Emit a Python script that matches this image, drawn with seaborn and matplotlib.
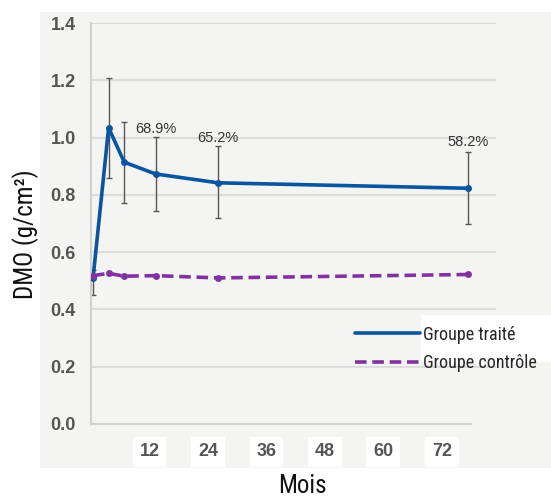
import numpy as np
import pandas as pd
import matplotlib
matplotlib.use('Agg')
import matplotlib.pyplot as plt
from matplotlib import font_manager
import seaborn as sns
from matplotlib.patches import Rectangle
from matplotlib.lines import Line2D

# data
mois = [0, 3, 6, 12, 24, 72]
dmo_traite = [0.508, 1.034, 0.914, 0.873, 0.842, 0.823]
err_bas = [0.057, 0.175, 0.141, 0.128, 0.122, 0.124]
err_haut = [0.03, 0.174, 0.142, 0.128, 0.127, 0.126]
dmo_controle = [0.518, 0.526, 0.516, 0.518, 0.510, 0.522]

pct_mois = [12, 24, 72]
pct_y = [1.03, 1.0, 0.985]
pct_labels = ['68.9%', '65.2%', '58.2%']

xtick_labels = ['12', '24', '36', '48', '60', '72']

blue = '#0a55a0'
purple = '#8232a0'

# the original uses a condensed face, take the narrowest one we have
installed = {f.name for f in font_manager.fontManager.ttflist}
narrow_font = 'DejaVu Sans'
for cand in ['Liberation Sans Narrow', 'DejaVu Sans Condensed', 'Roboto Condensed', 'Roboto']:
    if cand in installed:
        narrow_font = cand
        break
narrow = [narrow_font, 'DejaVu Sans']
is_narrow = narrow_font in ('Liberation Sans Narrow', 'DejaVu Sans Condensed', 'Roboto Condensed')
leg_size = 13 if is_narrow else 10.5

sns.set_style('white')
plt.rcParams['font.family'] = ['Liberation Sans', 'DejaVu Sans']

df = pd.DataFrame({'Mois': mois + mois,
                   'DMO': dmo_traite + dmo_controle,
                   'Groupe': ['Groupe traité'] * len(mois) + ['Groupe contrôle'] * len(mois)})

fig = plt.figure(figsize=(5.51, 4.97), dpi=100)
# light grey panel behind the chart
fig.patches.append(Rectangle((40 / 551, 1 - 468 / 497), 1 - 40 / 551, (468 - 12) / 497,
                             transform=fig.transFigure, facecolor='#f4f4f2', edgecolor='none', zorder=-1))

ax = fig.add_axes([91 / 551, 1 - 424 / 497, 405 / 551, 401 / 497])
ax.set_facecolor('none')

# px -> months: 0 month at x=93px, 5.21 px per month
x_left = (91 - 93) / 5.21
x_right = (496 - 93) / 5.21
x_axis_end = (471 - 93) / 5.21
ax.set_xlim(x_left, x_right)
ax.set_ylim(0, 1.4)

ax.errorbar(mois, dmo_traite, yerr=[err_bas, err_haut], fmt='none', ecolor='#555555',
            elinewidth=1, capsize=2.5, capthick=1, zorder=2)

sns.lineplot(data=df[df.Groupe == 'Groupe traité'], x='Mois', y='DMO', ax=ax, color=blue,
             linewidth=2.6, marker='o', markersize=5, markeredgewidth=0, zorder=3, legend=False)
sns.lineplot(data=df[df.Groupe == 'Groupe contrôle'], x='Mois', y='DMO', ax=ax, color=purple,
             linewidth=2.6, marker='o', markersize=5, markeredgewidth=0, zorder=4, legend=False,
             dashes=False)
ax.lines[-1].set_dashes([3.2, 1.6])

for xm, ym, lab in zip(pct_mois, pct_y, pct_labels):
    ax.text(xm, ym, lab, ha='center', va='center', fontsize=10.5, color='#333333')

# grid + axes
ax.set_yticks(np.arange(0, 1.41, 0.2))
ax.set_yticklabels([f'{v:.1f}' for v in np.arange(0, 1.41, 0.2)])
for v in np.arange(0.2, 1.41, 0.2):
    ax.axhline(v, color='#dcdcdc', linewidth=1.5, zorder=0)

xt = np.linspace(x_left, x_axis_end, 14)
ax.set_xticks(xt)
ax.set_xticklabels(['' if (k % 2 or k == 0 or k == 13) else xtick_labels[k // 2 - 1] for k in range(14)])

for s in ['top', 'right']:
    ax.spines[s].set_visible(False)
ax.spines['left'].set_color('#d0d0d0')
ax.spines['left'].set_linewidth(1.5)
ax.spines['bottom'].set_color('#d0d0d0')
ax.spines['bottom'].set_linewidth(1.5)
ax.spines['bottom'].set_bounds(x_left, x_axis_end)

ax.tick_params(axis='y', length=0, pad=11, labelsize=13, labelcolor='#555555')
ax.tick_params(axis='x', direction='out', length=5, width=1.5, color='#d0d0d0',
               pad=9, labelsize=13, labelcolor='#555555')
for t in ax.get_yticklabels() + ax.get_xticklabels():
    t.set_fontweight('bold')
for t in ax.get_xticklabels():
    t.set_bbox(dict(facecolor='white', edgecolor='none', pad=5))

ax.set_ylabel('DMO (g/cm²)', fontsize=18, family=narrow, color='#111111')
ax.yaxis.set_label_coords(-0.128, 0.474)
ax.set_xlabel('Mois', fontsize=18, family=narrow, color='#111111')
ax.xaxis.set_label_coords(0.523, -0.125)

# legend on a white strip
fig.patches.append(Rectangle((421 / 551, 1 - 362 / 497), 1 - 421 / 551, 47 / 497,
                             transform=fig.transFigure, facecolor='white', edgecolor='none', zorder=1))
handles = [Line2D([0], [0], color=blue, linewidth=2.6),
           Line2D([0], [0], color=purple, linewidth=2.6, dashes=[3.2, 1.6])]
fig.legend(handles, ['Groupe traité', 'Groupe contrôle'], loc='center left',
           bbox_to_anchor=(355 / 551, 1 - 349 / 497), frameon=False, handlelength=3.6,
           handletextpad=0.15, labelspacing=0.6, borderpad=0, borderaxespad=0,
           prop={'family': narrow, 'size': leg_size})

fig.savefig('out.png', dpi=100)
